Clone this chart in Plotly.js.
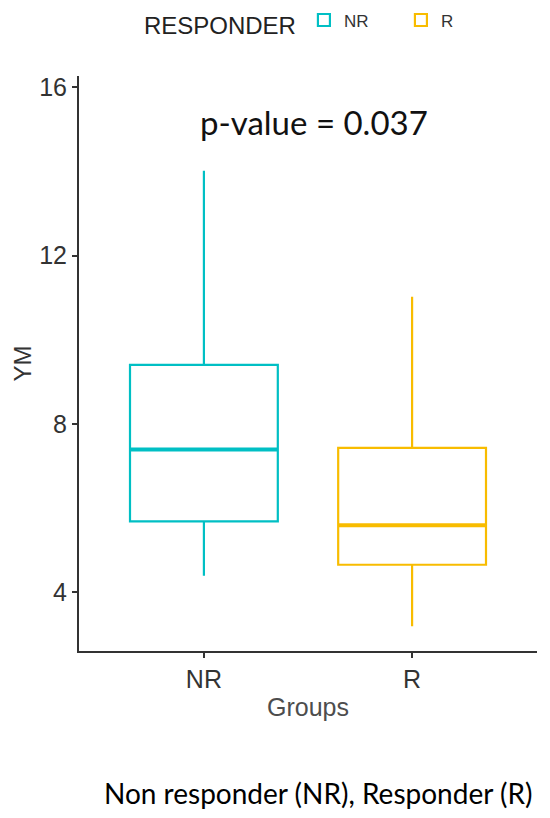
<!DOCTYPE html>
<html>
<head>
<meta charset="utf-8">
<script src="https://cdn.plot.ly/plotly-3.0.1.min.js"></script>
<style>
  body { margin: 0; background: #fff; }
  #chart { width: 550px; height: 818px; }
</style>
</head>
<body>
<div id="chart"></div>
<script>
// box stats
const groups = ['NR', 'R'];
const colors = ['#00BFC4', '#F8BC00'];
const lowerWhisker = [4.39, 3.19];
const q1 = [5.68, 4.65];
const median = [7.39, 5.59];
const q3 = [9.40, 7.43];
const upperWhisker = [14.02, 11.02];
const yTicks = [4, 8, 12, 16];
const pLabel = 'p-value = 0.037';
const caption = 'Non responder (NR), Responder (R)';

const boxWidth = 0.71;

const traces = groups.map((g, i) => ({
  type: 'box',
  name: g,
  x: [g],
  q1: [q1[i]],
  median: [median[i]],
  q3: [q3[i]],
  lowerfence: [lowerWhisker[i]],
  upperfence: [upperWhisker[i]],
  width: boxWidth,
  fillcolor: '#ffffff',
  line: { color: colors[i], width: 2.2 },
  whiskerwidth: 0,
  hoverinfo: 'none'
}));

// thicker median bars, like ggplot
const medianShapes = groups.map((g, i) => ({
  type: 'line', xref: 'x', yref: 'y',
  x0: i - boxWidth / 2, x1: i + boxWidth / 2,
  y0: median[i], y1: median[i],
  line: { color: colors[i], width: 4 }
}));

const layout = {
  width: 550, height: 818,
  margin: { l: 79, r: 13, t: 76, b: 167 },
  paper_bgcolor: '#ffffff', plot_bgcolor: '#ffffff',
  font: { family: 'Liberation Sans, Arial, sans-serif', color: '#333333' },
  boxmode: 'overlay',
  showlegend: true,
  legend: {
    orientation: 'h', xref: 'container', yref: 'container',
    x: 0.258, xanchor: 'left', y: 0.997, yanchor: 'top',
    title: { text: 'RESPONDER', font: { size: 24, color: '#222222' }, side: 'left' },
    font: { size: 17, color: '#333333' },
    entrywidth: 52, entrywidthmode: 'pixels',
    itemwidth: 30
  },
  xaxis: {
    type: 'category',
    range: [-0.6, 1.6],
    showline: true, linecolor: '#333333', linewidth: 2,
    ticks: 'outside', ticklen: 5, tickwidth: 2, tickcolor: '#333333',
    tickfont: { size: 25, color: '#333333' },
    showgrid: false, zeroline: false,
    title: { text: 'Groups', font: { size: 25, color: '#4d4d4d' }, standoff: 6 }
  },
  yaxis: {
    range: [2.6, 16.27],
    tickvals: yTicks,
    showline: true, linecolor: '#333333', linewidth: 2,
    ticks: 'outside', ticklen: 5, tickwidth: 2, tickcolor: '#333333',
    tickfont: { size: 25, color: '#333333' },
    showgrid: false, zeroline: false,
    title: { text: 'YM', font: { size: 24, color: '#333333' }, standoff: 1 }
  },
  shapes: medianShapes,
  annotations: [
    {
      text: pLabel, xref: 'x', yref: 'y', x: 0.53, y: 15.17,
      showarrow: false, font: { family: 'Lato, Open Sans, sans-serif', size: 33, color: '#111111' }
    },
    {
      text: caption, xref: 'paper', yref: 'paper', x: 0.5, y: 0,
      xanchor: 'center', yanchor: 'middle', yshift: -142, xshift: 10,
      showarrow: false, font: { family: 'Lato, Open Sans, sans-serif', size: 28, color: '#000000' }
    }
  ]
};

Plotly.newPlot('chart', traces, layout, { displayModeBar: false, staticPlot: true });
</script>
</body>
</html>
